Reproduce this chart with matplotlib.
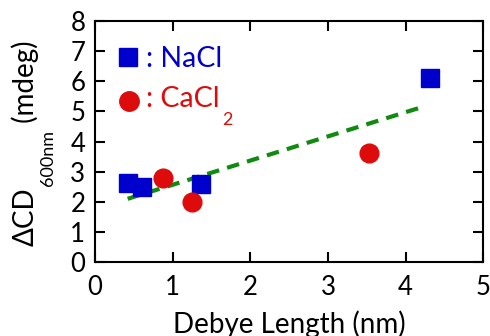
import matplotlib
matplotlib.use('Agg')
import matplotlib.pyplot as plt
from matplotlib.transforms import offset_copy

plt.rcParams['font.family'] = ['Lato', 'DejaVu Sans']
plt.rcParams['mathtext.default'] = 'regular'

# data
nacl_x = [0.43, 0.61, 1.37, 4.32]
nacl_y = [2.61, 2.50, 2.60, 6.10]
cacl_x = [0.88, 1.25, 3.53]
cacl_y = [2.78, 1.98, 3.62]
fit_x = [0.42, 4.22]
fit_y = [2.10, 5.15]

W, H = 490, 336
fig = plt.figure(figsize=(W / 100, H / 100), dpi=100)
ax = fig.add_axes([0.194, 0.22, 0.792, 0.7175])

ax.plot(fit_x, fit_y, color='#108a10', linestyle=(0, (3, 2)), linewidth=3)
ax.plot(nacl_x, nacl_y, 's', color='#0000cc', markersize=12.5, linestyle='none')
ax.plot(cacl_x, cacl_y, 'o', color='#dd0b0b', markersize=13.5, linestyle='none')

# legend drawn as in the original
ax.plot([0.43], [6.80], 's', color='#0000cc', markersize=12.5)
ax.text(0.66, 6.46, ': NaCl', color='#0000cc', fontsize=20.5, va='baseline')
ax.plot([0.44], [5.36], 'o', color='#dd0b0b', markersize=14)
t = ax.text(0.66, 5.13, ': CaCl', color='#dd0b0b', fontsize=20.5, va='baseline')

ax.set_xlim(0, 5)
ax.set_ylim(0, 8)
ax.set_xticks(range(0, 6))
ax.set_yticks(range(0, 9))
ax.tick_params(direction='in', length=7, width=1.5, labelsize=18.5,
               top=True, right=True)
ax.tick_params(axis='x', pad=9)
ax.tick_params(axis='y', pad=7)
for s in ax.spines.values():
    s.set_linewidth(1.5)

ax.set_xlabel('Debye Length (nm)', fontsize=20, labelpad=8)

fig.canvas.draw()
r = fig.canvas.get_renderer()

# low subscript "2" after CaCl
bb = t.get_window_extent(r)
x_end = ax.transData.inverted().transform((bb.x1, bb.y0))[0]
ax.text(x_end, 4.54, '2', color='#dd0b0b', fontsize=13, va='baseline',
        transform=offset_copy(ax.transData, fig=fig, x=2, y=0, units='dots'))

# y label built in pieces so the subscript sits low like the original
def vtext(s, x_px, y_px, size):
    tx = fig.text(x_px / W, y_px / H, s, rotation=90, rotation_mode='anchor',
                  ha='left', va='baseline', fontsize=size)
    return tx.get_window_extent(r).y1

y = H - 246
y = vtext('\u0394CD', 34, y, 20)
y = vtext('600nm', 53, y + 1, 13)
vtext(' (mdeg)', 34, y, 20)

fig.savefig('out.png', dpi=100)
